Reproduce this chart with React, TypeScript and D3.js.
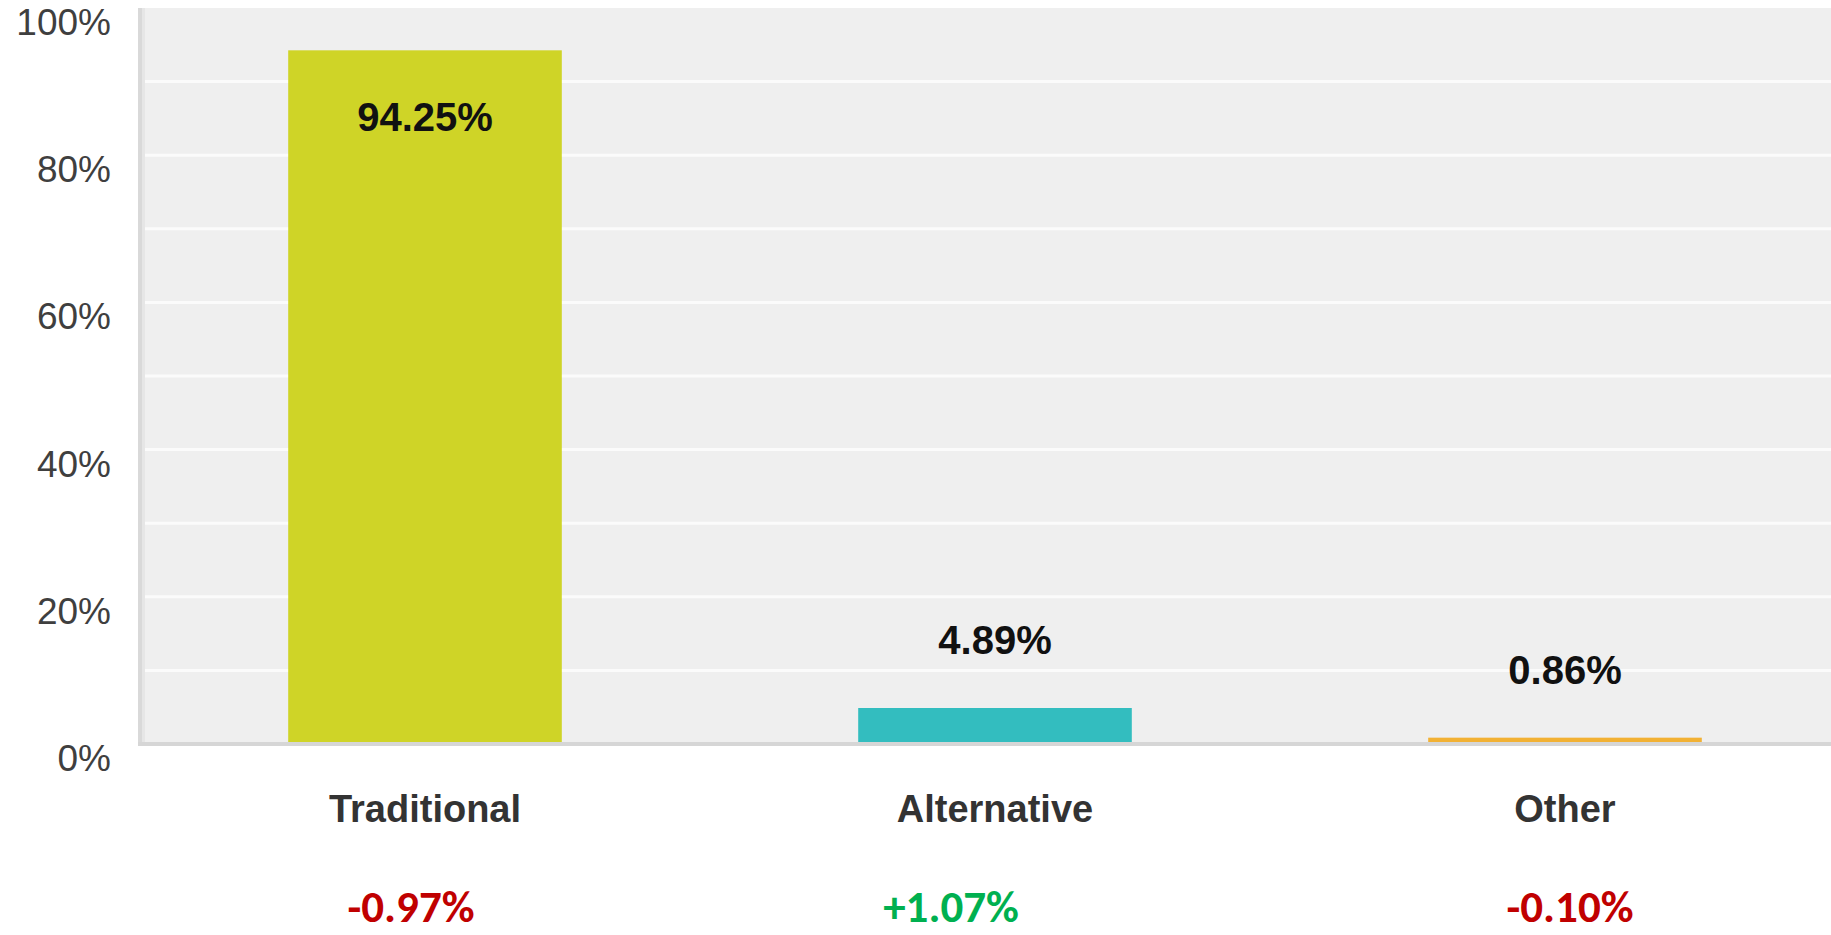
import React from "react";
import * as d3 from "d3";

const categories = ["Traditional", "Alternative", "Other"];
const shares = [94.25, 4.89, 0.86];
const changes = ["-0.97%", "+1.07%", "-0.10%"];
const changeDirection = ["down", "up", "down"];
const yTicks = [0, 20, 40, 60, 80, 100];
const gridValues = [10, 20, 30, 40, 50, 60, 70, 80, 90];

const barColors = ["#cfd427", "#33bdbf", "#f2b134"];
const changeOffsets = [-14, -44, 5];

const W = 1831;
const H = 935;

export default function App() {
  const x = d3.scaleBand<string>().domain(categories).range([140, 1850]).paddingInner(0.52).paddingOuter(0.26);
  const y = d3.scaleLinear().domain([0, 100]).range([744, 8]);
  const plotLeft = 140;
  const fmt = (v: number) => `${v.toFixed(2)}%`;
  return (
    <svg width={W} height={H} style={{ position: "absolute", left: 0, top: 0, display: "block", background: "#fff" }}>
      <rect x={plotLeft} y={y(100)} width={W - plotLeft} height={y(0) - y(100)} fill="#efefef" />
      {gridValues.map((g) => (
        <line key={g} x1={plotLeft} x2={W} y1={y(g)} y2={y(g)} stroke="#fbfbfb" strokeWidth={3} />
      ))}
      <rect x={138} y={y(100)} width={4} height={y(0) - y(100) + 2} fill="#d9d9d9" />
      <rect x={142} y={y(100)} width={3} height={y(0) - y(100)} fill="#e6e6e6" />
      {categories.map((c, i) => (
        <rect key={c} x={x(c)} y={y(shares[i])} width={x.bandwidth()} height={y(0) - y(shares[i])} fill={barColors[i]} />
      ))}
      <rect x={138} y={742} width={W - 138} height={4} fill="#d6d6d6" />
      {yTicks.map((t) => (
        <text key={t} x={111} y={y(t) + 27} textAnchor="end" fontFamily="'Liberation Sans', Arial, sans-serif" fontSize={37} fill="#3f3f3f">
          {`${t}%`}
        </text>
      ))}
      {categories.map((c, i) => {
        const cx = (x(c) as number) + x.bandwidth() / 2;
        const top = y(shares[i]);
        const inside = shares[i] > 50;
        return (
          <text key={c + "v"} x={cx} y={inside ? top + 81 : top - 54} textAnchor="middle" fontFamily="'Liberation Sans', Arial, sans-serif" fontWeight="bold" fontSize={40} fill="#111">
            {fmt(shares[i])}
          </text>
        );
      })}
      {categories.map((c, i) => {
        const cx = (x(c) as number) + x.bandwidth() / 2;
        return (
          <text key={c + "l"} x={cx} y={822} textAnchor="middle" fontFamily="'Liberation Sans', Arial, sans-serif" fontWeight="bold" fontSize={38} fill="#333">
            {c}
          </text>
        );
      })}
      {categories.map((c, i) => {
        const cx = (x(c) as number) + x.bandwidth() / 2 + changeOffsets[i];
        return (
          <text key={c + "c"} x={cx} y={922} textAnchor="middle" fontFamily="Carlito, Lato, sans-serif" fontWeight="bold" fontSize={45} fill={changeDirection[i] === "up" ? "#00b050" : "#c00000"}>
            {changes[i]}
          </text>
        );
      })}
    </svg>
  );
}
